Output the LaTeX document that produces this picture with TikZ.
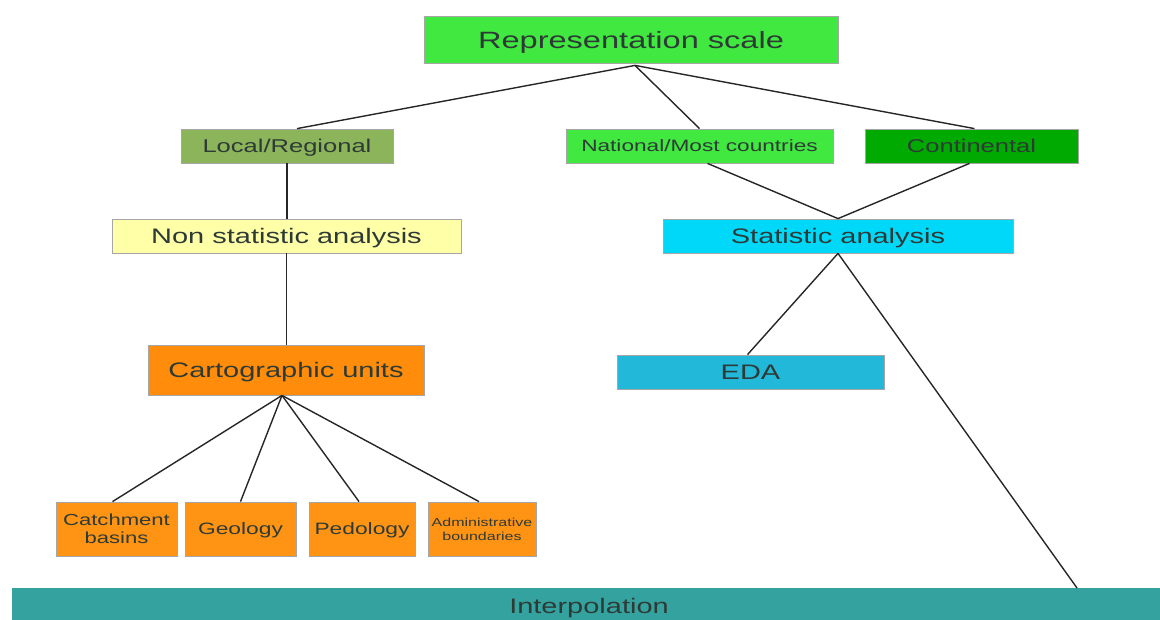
\documentclass[tikz,border=0pt]{standalone}
\usepackage{fontspec}
\setmainfont[FakeStretch=1.38]{Liberation Sans}
\usetikzlibrary{calc}
\definecolor{gA}{HTML}{40E840}
\definecolor{gLocal}{HTML}{8CB45A}
\definecolor{gCont}{HTML}{00AA00}
\definecolor{yNon}{HTML}{FFFFA8}
\definecolor{cStat}{HTML}{00D8FA}
\definecolor{cEda}{HTML}{22B8DA}
\definecolor{oCarto}{HTML}{FF8C0A}
\definecolor{oLeaf}{HTML}{FF9414}
\definecolor{tInt}{HTML}{34A3A0}
\definecolor{txt}{HTML}{2E3A36}
\tikzset{
  box/.style={draw=black!35, line width=0.8pt, inner sep=0pt, text=txt, align=center, text depth=0pt},
  conn/.style={draw=black!85, line width=1.4pt},
}
\begin{document}
\begin{tikzpicture}[x=1pt,y=-1pt]
\useasboundingbox (0,0) rectangle (1160,619);
\begin{scope}
\clip (0,0) rectangle (1160,619);
% nodes
\node[box, fill=gA, minimum width=414pt, minimum height=47pt, font=\fontsize{23.6}{28}\selectfont] (rep) at (631,39.5) {Representation scale};
\node[box, fill=gLocal, minimum width=212pt, minimum height=34pt, font=\fontsize{18.5}{22}\selectfont] (local) at (287,146) {Local/Regional};
\node[box, fill=gA, minimum width=267pt, minimum height=34pt, font=\fontsize{16.4}{20}\selectfont] (nat) at (699.5,146) {National/Most countries};
\node[box, fill=gCont, minimum width=213pt, minimum height=34pt, font=\fontsize{18.5}{22}\selectfont] (cont) at (971.5,146) {Continental};
\node[box, fill=yNon, minimum width=349pt, minimum height=34pt, font=\fontsize{21}{25}\selectfont] (non) at (286.5,236) {Non statistic analysis};
\node[box, fill=cStat, minimum width=350pt, minimum height=34pt, font=\fontsize{21}{25}\selectfont] (stat) at (838,236) {Statistic analysis};
\node[box, fill=oCarto, minimum width=276pt, minimum height=50pt, font=\fontsize{21}{25}\selectfont] (carto) at (286,370) {Cartographic units};
\node[box, fill=cEda, minimum width=267pt, minimum height=34pt, font=\fontsize{21}{25}\selectfont] (eda) at (750.5,372) {EDA};
\node[box, fill=oLeaf, minimum width=121pt, minimum height=54pt, font=\fontsize{16}{18}\selectfont] (catch) at (116.5,529) {Catchment\\basins};
\node[box, fill=oLeaf, minimum width=111pt, minimum height=54pt, font=\fontsize{16.5}{20}\selectfont] (geo) at (240.5,529) {Geology};
\node[box, fill=oLeaf, minimum width=106pt, minimum height=54pt, font=\fontsize{16.5}{20}\selectfont] (pedo) at (362,529) {Pedology};
\node[box, fill=oLeaf, minimum width=108pt, minimum height=54pt, font=\fontsize{11.6}{14}\selectfont] (admin) at (482,529) {Administrative\\boundaries};
\node[box, draw=none, fill=tInt, minimum width=1160pt, minimum height=34pt] (interp) at (592,605) {};
\node[text=txt, font=\fontsize{21}{25}\selectfont, inner sep=0pt, anchor=base] (interpT) at (589,613) {Interpolation};
\end{scope}
\coordinate (repS) at ([xshift=4pt,yshift=-2pt]rep.south);
\coordinate (intTop) at (1077,588);
% connectors
\draw[conn] (repS) -- ([xshift=10pt]local.north);
\draw[conn] (repS) -- (nat.north);
\draw[conn] (repS) -- ([xshift=3pt]cont.north);
\draw[conn] (local.south) -- (local.south |- non.north);
\draw[conn] (non.south) -- (non.south |- carto.north);
\draw[conn] ([xshift=8pt]nat.south) -- (stat.north);
\draw[conn] ([xshift=-2pt]cont.south) -- (stat.north);
\draw[conn] (stat.south) -- ([xshift=-3pt]eda.north);
\draw[conn] (stat.south) -- (intTop);
\draw[conn] ([xshift=-4pt]carto.south) -- ([xshift=-4pt]catch.north);
\draw[conn] ([xshift=-4pt]carto.south) -- (geo.north);
\draw[conn] ([xshift=-4pt]carto.south) -- ([xshift=-3pt]pedo.north);
\draw[conn] ([xshift=-4pt]carto.south) -- ([xshift=-3pt]admin.north);
\end{tikzpicture}
\end{document}
